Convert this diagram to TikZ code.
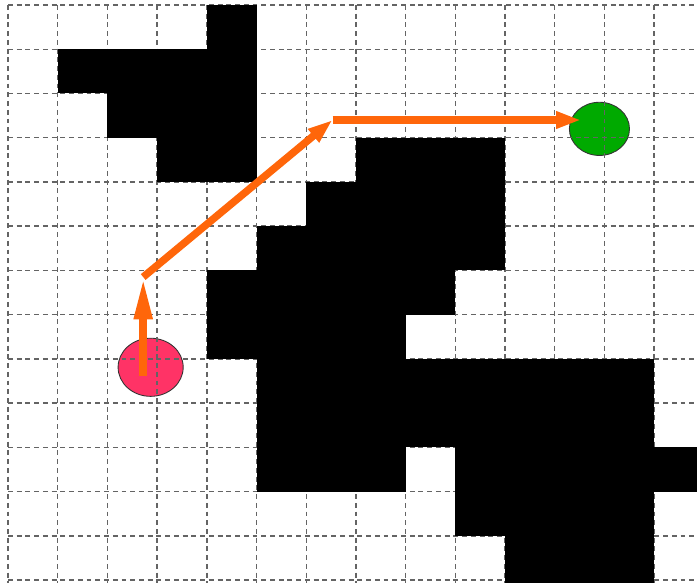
\documentclass[tikz,border=0pt]{standalone}
\usepackage{tikz}
\usepackage{xcolor}
\usetikzlibrary{shapes.geometric, arrows.meta, positioning, calc}
\definecolor{cStart}{RGB}{255,51,102}
\definecolor{cGoal}{RGB}{0,170,0}
\definecolor{cPath}{RGB}{255,102,10}
\definecolor{cGrid}{RGB}{100,100,100}
\tikzset{
	gridline/.style ={draw=cGrid, line width=0.8pt, dash pattern=on 2.8pt off 2.2pt},
	wall/.style     ={fill=black},
	startnode/.style={ellipse, draw=black!80, line width=0.5pt, fill=cStart, minimum width=1.31cm, minimum height=1.17cm, inner sep=0pt},
	goalnode/.style ={ellipse, draw=black!80, line width=0.5pt, fill=cGoal, minimum width=1.21cm, minimum height=1.07cm, inner sep=0pt},
	% path segments of the planner
	firstseg/.style ={-{Triangle[length=0.85cm, width=0.34cm]}, draw=cPath, line width=0.16cm},
	pathseg/.style  ={-{Triangle[length=0.5cm, width=0.32cm]}, draw=cPath, line width=0.15cm},
}

\begin{document}
\begin{tikzpicture}[x=1cm, y=-0.89cm]
					\useasboundingbox (-0.161,-0.113) rectangle (13.863,13.062);
					\clip (-0.161,-0.113) rectangle (13.863,13.062);
					% start and goal cells
					\node[startnode] (start) at (2.87,8.19) {};
					\node[goalnode] (goal) at (11.90,2.80) {};
					% occupancy grid
					\foreach \i in {0,...,13} {
						\draw[gridline] (\i,0) -- (\i,13.3);
						\draw[gridline] (0,\i) -- (14,\i);
					}
					% obstacles: row / first column / last column+1
					\foreach \r/\a/\b in {0/4/5, 1/1/5, 2/2/5, 3/3/5, 3/7/10, 4/6/10, 5/5/10, 6/4/9, 7/4/8, 8/5/13, 9/5/13, 10/5/8, 10/9/14, 11/9/13, 12/10/13}
						\fill[wall] (\a,\r) rectangle (\b,{\r+1.3*(\r==12)+1});
					% waypoints
					\coordinate (w0) at (2.72,8.38);
					\coordinate (w1) at (2.72,6.15);
					\coordinate (w2) at (6.53,2.60);
					\coordinate (w3) at (11.53,2.60);
					\draw[firstseg] (w0) -- (w1);
					\draw[pathseg] (w1) -- (w2);
					\draw[pathseg] (w2) -- (w3);
				\end{tikzpicture}
\end{document}
